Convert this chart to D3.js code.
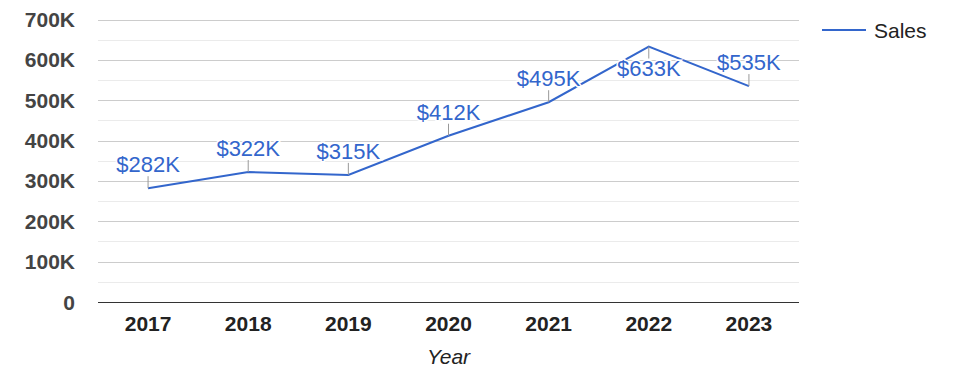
<!DOCTYPE html>
<html>
<head>
<meta charset="utf-8">
<script src="https://cdn.jsdelivr.net/npm/d3@7"></script>
<style>
  html, body { margin:0; padding:0; background:#fff; }
  svg { display:block; font-family: Arial, "Liberation Sans", sans-serif; }
</style>
</head>
<body>
<svg id="chart" width="975" height="378"></svg>
<script>
/* sales by year, line chart w/ annotations */
const YEARS  = ["2017","2018","2019","2020","2021","2022","2023"];
const SALES  = [282, 322, 315, 412, 495, 633, 535];   // thousands
const Y_TICKS = [0,100,200,300,400,500,600,700];
const SERIES = "Sales";
const X_TITLE = "Year";
const BELOW = new Set(["2022"]);   // annotation drawn under the point

const W = 975, H = 378,
      M = {top:19.5, right:176, bottom:76, left:98};
const BLUE = "#3366cc";

const svg = d3.select("#chart");

const x = d3.scaleBand().domain(YEARS).range([M.left, W-M.right]);
const y = d3.scaleLinear().domain([0,700]).range([H-M.bottom, M.top]);

/* ---------- grid ---------- */
const minor = d3.range(50, 700, 100);
svg.append("g").selectAll("line").data(minor).join("line")
    .attr("x1",M.left).attr("x2",W-M.right)
    .attr("y1",d=>Math.round(y(d))+0.5).attr("y2",d=>Math.round(y(d))+0.5)
    .attr("stroke","#ebebeb");

svg.append("g").selectAll("line").data(Y_TICKS.filter(d=>d>0)).join("line")
    .attr("x1",M.left).attr("x2",W-M.right)
    .attr("y1",d=>Math.round(y(d))+0.5).attr("y2",d=>Math.round(y(d))+0.5)
    .attr("stroke","#cccccc");

/* y labels */
svg.append("g").selectAll("text").data(Y_TICKS).join("text")
    .attr("x",75).attr("y",d=>y(d)+7.5)
    .attr("text-anchor","end")
    .style("font-size","21px").style("font-weight","bold").style("fill","#444")
    .text(d=>d===0 ? "0" : d+"K");

/* baseline */
svg.append("line")
    .attr("x1",M.left).attr("x2",W-M.right)
    .attr("y1",Math.round(y(0))+0.5).attr("y2",Math.round(y(0))+0.5)
    .attr("stroke","#333");

/* x labels */
svg.append("g").selectAll("text").data(YEARS).join("text")
    .attr("x",d=>x(d)+x.bandwidth()/2).attr("y",331)
    .attr("text-anchor","middle")
    .style("font-size","21px").style("font-weight","bold").style("fill","#222")
    .text(d=>d);

svg.append("text")
    .attr("x",(M.left+W-M.right)/2).attr("y",364)
    .attr("text-anchor","middle")
    .style("font-size","21px").style("font-style","italic").style("fill","#222")
    .text(X_TITLE);

/* ---------- line ---------- */
const pts = YEARS.map((yr,i)=>({year:yr, v:SALES[i]}));
const cx = d=>x(d.year)+x.bandwidth()/2;

svg.append("path").datum(pts)
    .attr("fill","none").attr("stroke",BLUE).attr("stroke-width",2)
    .attr("d",d3.line().x(cx).y(d=>y(d.v)));

/* annotations */
const ann = svg.append("g").selectAll("g").data(pts).join("g");
ann.append("line")
    .attr("x1",cx).attr("x2",cx)
    .attr("y1",d=>y(d.v))
    .attr("y2",d=>BELOW.has(d.year) ? y(d.v)+12 : y(d.v)-12)
    .attr("stroke","#999").attr("stroke-width",1);
ann.append("text")
    .attr("x",cx)
    .attr("y",d=>BELOW.has(d.year) ? y(d.v)+29 : y(d.v)-16)
    .attr("text-anchor","middle")
    .style("font-size","22px").style("fill",BLUE)
    .style("stroke","#fff").style("stroke-width","3px").style("paint-order","stroke")
    .text(d=>"$"+d.v+"K");

/* legend */
const lg = svg.append("g").attr("transform","translate(822,30)");
lg.append("line").attr("x1",0).attr("x2",44).attr("stroke",BLUE).attr("stroke-width",2);
lg.append("text").attr("x",52).attr("y",7.5)
    .style("font-size","21px").style("fill","#222").text(SERIES);
</script>
</body>
</html>
